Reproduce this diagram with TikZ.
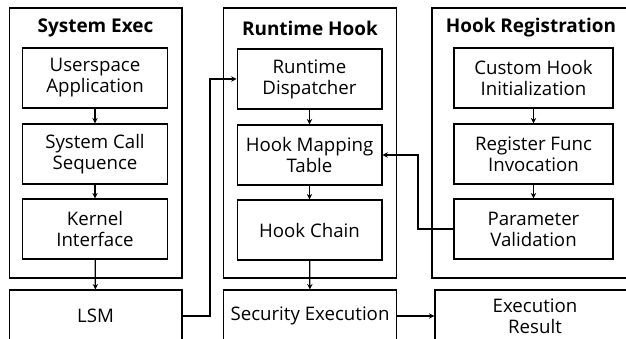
\documentclass[tikz,border=0pt]{standalone}
\usepackage{fontspec}
\setmainfont{Open Sans}
\usepackage{tikz}
\usetikzlibrary{arrows.meta,positioning}

\begin{document}
\begin{tikzpicture}[
  x=0.75pt, y=-0.75pt,
  line width=1pt,
  txt/.style={font=\fontsize{14pt}{15.75pt}\selectfont},
  group/.style={draw, minimum width=129.5pt, minimum height=202.5pt},
  title/.style={font=\fontsize{14.2pt}{15.75pt}\selectfont\bfseries},
  stage/.style={draw, txt, align=center, minimum width=108.5pt, minimum height=45pt, inner sep=2pt},
  sink/.style={draw, txt, align=center, minimum width=129.5pt, minimum height=39pt, inner sep=2pt},
  arr/.style={-{Stealth[length=4pt,width=4pt]}},
]
\useasboundingbox (0,0) rectangle (626,339);
\clip (0,0) rectangle (626,339);

\node[group] (sysexec) at (95.5,143) {};
\node[title] (sysexecT) at (95.5,28) {System Exec};
\node[stage] (user) at (95,78) {Userspace\\Application};
\node[stage] (syscall) at (95,154) {System Call\\Sequence};
\node[stage] (kernel) at (95,229) {Kernel\\Interface};
\node[sink] (lsm) at (95.5,316) {LSM};

\node[group] (runtime) at (310,143) {};
\node[title] (runtimeT) at (310,28) {Runtime Hook};
\node[stage] (disp) at (309.5,79) {Runtime\\Dispatcher};
\node[stage] (map) at (309.5,155) {Hook Mapping\\Table};
\node[stage] (chain) at (309.5,230) {Hook Chain};
\node[sink] (secexec) at (310,316) {Security Execution};

\node[group, minimum width=150pt] (hookreg) at (532,143) {};
\node[title] (hookregT) at (531,28) {Hook Registration};
\node[stage, minimum width=119.25pt] (custom) at (533.5,78) {Custom Hook\\Initialization};
\node[stage, minimum width=119.25pt] (regfunc) at (533.5,154) {Register Func\\Invocation};
\node[stage, minimum width=119.25pt] (param) at (533.5,229) {Parameter\\Validation};
\node[sink, minimum width=150pt] (result) at (535,316) {Execution\\Result};

\coordinate (lsmturn) at (210,0);
\coordinate (paramturn) at (418,0);

\draw[arr] (user) -- (syscall);
\draw[arr] (syscall) -- (kernel);
\draw[arr] (kernel) -- (lsm);
\draw[arr] (disp) -- (map);
\draw[arr] (map) -- (chain);
\draw[arr] (chain) -- (secexec);
\draw[arr] (custom) -- (regfunc);
\draw[arr] (regfunc) -- (param);

\draw[arr] (lsm.east) -- (lsm.east -| lsmturn) |- (disp.west);
\draw[arr] (param.west) -- (param.west -| paramturn) |- (map.east);
\draw[arr] (secexec) -- (result);
\end{tikzpicture}
\end{document}
